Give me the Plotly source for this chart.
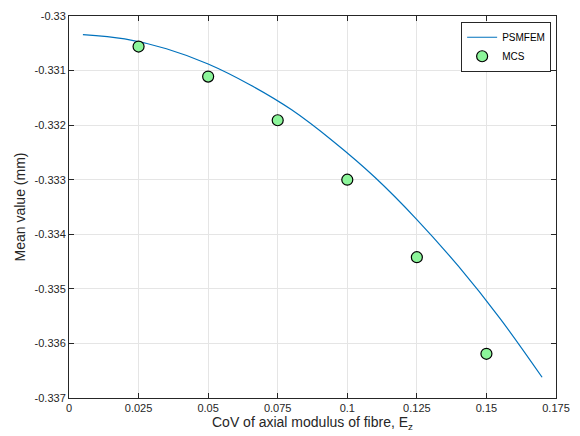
import plotly.graph_objects as go

# PSMFEM curve
psm_x = [0.005, 0.02, 0.035, 0.05, 0.065, 0.08, 0.095, 0.11, 0.125, 0.14, 0.155, 0.17]
psm_y = [-0.33034, -0.33042, -0.33060, -0.33088, -0.33126, -0.33172, -0.33230,
         -0.33296, -0.33373, -0.33459, -0.33555, -0.33662]

# MCS points
mcs_x = [0.025, 0.05, 0.075, 0.1, 0.125, 0.15]
mcs_y = [-0.33056, -0.33111, -0.33191, -0.33300, -0.33442, -0.33619]

x_ticks = [0, 0.025, 0.05, 0.075, 0.1, 0.125, 0.15, 0.175]
x_ticktext = ["0", "0.025", "0.05", "0.075", "0.1", "0.125", "0.15", "0.175"]
y_ticks = [-0.33, -0.331, -0.332, -0.333, -0.334, -0.335, -0.336, -0.337]
y_ticktext = ["-0.33", "-0.331", "-0.332", "-0.333", "-0.334", "-0.335", "-0.336", "-0.337"]

fig = go.Figure()
fig.add_trace(go.Scatter(x=psm_x, y=psm_y, mode="lines", name="PSMFEM",
                         line=dict(color="#0072BD", width=1.2, shape="spline")))
fig.add_trace(go.Scatter(x=mcs_x, y=mcs_y, mode="markers", name="MCS",
                         marker=dict(size=11, color="#8CF59A",
                                     line=dict(color="black", width=1.2))))

axis_common = dict(showline=True, linecolor="#262626", linewidth=1, mirror="ticks",
                   ticks="inside", ticklen=5, tickcolor="#262626",
                   showgrid=True, gridcolor="#E5E5E5", gridwidth=1, zeroline=False,
                   tickfont=dict(family="Liberation Sans, Arial, sans-serif", size=11, color="#262626"))

fig.update_layout(
    width=580, height=436,
    margin=dict(l=69, r=19, t=10, b=38),
    paper_bgcolor="white", plot_bgcolor="white",
    font=dict(family="Liberation Sans, Arial, sans-serif", color="#262626"),
    xaxis=dict(range=[0, 0.175], tickvals=x_ticks, ticktext=x_ticktext,
               title=dict(text="CoV of axial modulus of fibre, E<sub>z</sub>",
                          font=dict(size=14), standoff=2),
               **axis_common),
    yaxis=dict(range=[-0.337, -0.33], tickvals=y_ticks, ticktext=y_ticktext,
               title=dict(text="Mean value (mm)", font=dict(size=14), standoff=5),
               **axis_common),
    legend=dict(x=0.99, y=0.985, xanchor="right", yanchor="top",
                bgcolor="white", bordercolor="#262626", borderwidth=1,
                font=dict(size=10, color="black"), tracegroupgap=0,
                itemwidth=30),
    showlegend=True,
)

fig.write_html("out.html")
